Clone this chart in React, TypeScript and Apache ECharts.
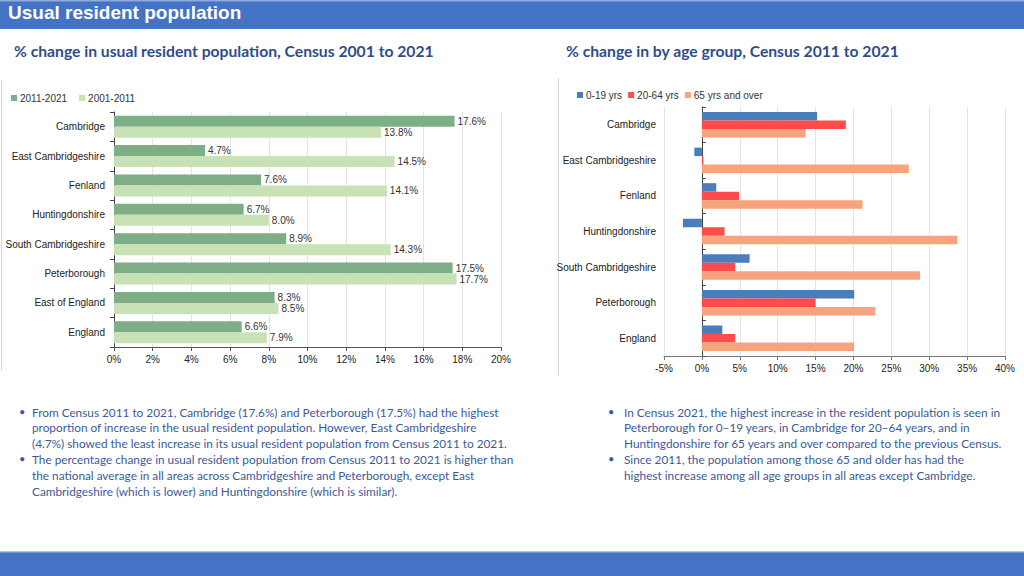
import React, { useEffect, useRef } from "react";
import * as echarts from "echarts";

const areasLeft = ["Cambridge", "East Cambridgeshire", "Fenland", "Huntingdonshire", "South Cambridgeshire", "Peterborough", "East of England", "England"];
const change2011_2021 = [17.6, 4.7, 7.6, 6.7, 8.9, 17.5, 8.3, 6.6];
const change2001_2011 = [13.8, 14.5, 14.1, 8.0, 14.3, 17.7, 8.5, 7.9];

const areasRight = ["Cambridge", "East Cambridgeshire", "Fenland", "Huntingdonshire", "South Cambridgeshire", "Peterborough", "England"];
const age0_19 = [15.2, -1.0, 1.9, -2.5, 6.3, 20.1, 2.7];
const age20_64 = [19.0, 0.2, 4.9, 3.0, 4.4, 15.0, 4.4];
const age65plus = [13.7, 27.3, 21.2, 33.7, 28.8, 22.9, 20.1];

const leftBullets = [
  ["From Census 2011 to 2021, Cambridge (17.6%) and Peterborough (17.5%) had the highest", "proportion of increase in the usual resident population. However, East Cambridgeshire", "(4.7%) showed the least increase in its usual resident population from Census 2011 to 2021."],
  ["The percentage change in usual resident population from Census 2011 to 2021 is higher than", "the national average in all areas across Cambridgeshire and Peterborough, except East", "Cambridgeshire (which is lower) and Huntingdonshire (which is similar)."],
];
const rightBullets = [
  ["In Census 2021, the highest increase in the resident population is seen in", "Peterborough for 0\u201319 years, in Cambridge for 20\u201364 years, and in", "Huntingdonshire for 65 years and over compared to the previous Census."],
  ["Since 2011, the population among those 65 and older has had the", "highest increase among all age groups in all areas except Cambridge."],
];

const FONT = "Liberation Sans, Arial, sans-serif";
const BODY_FONT = "Lato, Calibri, sans-serif";
const TEXT_BLUE = "#3A5A9C";

function bulletGraphics(groups: string[][], bx: number, tx: number, y0: number, lh: number) {
  const out: any[] = [];
  let y = y0;
  groups.forEach((lines) => {
    out.push({ type: "text", left: bx, top: y - 6, style: { text: "\u2022", fill: TEXT_BLUE, font: `11px ${BODY_FONT}` }, silent: true });
    lines.forEach((ln) => {
      out.push({ type: "text", left: tx, top: y - 6, style: { text: ln, fill: TEXT_BLUE, font: `11.8px ${BODY_FONT}` }, silent: true });
      y += lh;
    });
  });
  return out;
}

export default function App() {
  const ref = useRef<HTMLDivElement>(null);
  useEffect(() => {
    if (!ref.current) return;
    const chart = echarts.init(ref.current, undefined, { renderer: "svg" });
    const pct = (v: any) => `${Number(v.value).toFixed(1)}%`;
    const option: any = {
      animation: false,
      backgroundColor: "#ffffff",
      textStyle: { fontFamily: FONT },
      legend: [
        {
          left: 6, top: 88, itemWidth: 6, itemHeight: 6, itemGap: 12, icon: "rect",
          textStyle: { fontSize: 10, color: "#333", fontFamily: FONT, padding: [0, 0, 0, -2] },
          data: ["2011-2021", "2001-2011"],
        },
        {
          left: 572, top: 85, itemWidth: 6, itemHeight: 6, itemGap: 6, icon: "rect",
          textStyle: { fontSize: 10, color: "#333", fontFamily: FONT, padding: [0, 0, 0, -2] },
          data: ["0-19 yrs", "20-64 yrs", "65 yrs and over"],
        },
      ],
      grid: [
        { left: 114, top: 112, width: 387, height: 235 },
        { left: 664, top: 107, width: 341, height: 249 },
      ],
      xAxis: [
        {
          gridIndex: 0, type: "value", min: 0, max: 20, interval: 2,
          axisLabel: { formatter: "{value}%", fontSize: 10, color: "#222", margin: 7 },
          axisLine: { show: true, lineStyle: { color: "#555" } },
          axisTick: { show: true, length: 4, lineStyle: { color: "#555" } },
          splitLine: { show: true, lineStyle: { color: "#E4E4E4" } },
        },
        {
          gridIndex: 1, type: "value", min: -5, max: 40, interval: 5,
          axisLabel: { formatter: "{value}%", fontSize: 10, color: "#222", margin: 7 },
          axisLine: { show: true, onZero: false, lineStyle: { color: "#777" } },
          axisTick: { show: true, length: 4, lineStyle: { color: "#777" } },
          splitLine: { show: true, lineStyle: { color: "#E4E4E4" } },
        },
      ],
      yAxis: [
        {
          gridIndex: 0, type: "category", data: areasLeft, inverse: true,
          axisLabel: { fontSize: 10, color: "#222", margin: 9 },
          axisLine: { show: true, onZero: false, lineStyle: { color: "#444" } },
          axisTick: { show: true, length: 4, lineStyle: { color: "#444" } },
        },
        {
          gridIndex: 1, type: "category", data: areasRight, inverse: true,
          axisLabel: { fontSize: 10, color: "#222", margin: 8 },
          axisLine: { show: false, onZero: false },
          axisTick: { show: false },
        },
        {
          gridIndex: 1, type: "category", data: areasRight, inverse: true,
          axisLabel: { show: false },
          axisLine: { show: true, onZero: true, lineStyle: { color: "#444" } },
          axisTick: { show: true, length: 4, lineStyle: { color: "#444" } },
        },
      ],
      series: [
        {
          name: "2011-2021", type: "bar", xAxisIndex: 0, yAxisIndex: 0, data: change2011_2021,
          barWidth: 11, barGap: "0%", itemStyle: { color: "#7DAE85" },
          label: { show: true, position: "right", distance: 3, formatter: pct, fontSize: 10, color: "#333" },
        },
        {
          name: "2001-2011", type: "bar", xAxisIndex: 0, yAxisIndex: 0, data: change2001_2011,
          barWidth: 11, barGap: "0%", itemStyle: { color: "#C8E2B5" },
          label: { show: true, position: "right", distance: 3, formatter: pct, fontSize: 10, color: "#333" },
        },
        {
          name: "0-19 yrs", type: "bar", xAxisIndex: 1, yAxisIndex: 1, data: age0_19,
          barWidth: 8.5, barGap: "0%", itemStyle: { color: "#4A7EBB" },
        },
        {
          name: "20-64 yrs", type: "bar", xAxisIndex: 1, yAxisIndex: 1, data: age20_64,
          barWidth: 8.5, barGap: "0%", itemStyle: { color: "#FF4B4B" },
        },
        {
          name: "65 yrs and over", type: "bar", xAxisIndex: 1, yAxisIndex: 1, data: age65plus,
          barWidth: 8.5, barGap: "0%", itemStyle: { color: "#F7A47E" },
        },
      ],
      graphic: [
        { type: "rect", shape: { x: 0, y: 0, width: 1024, height: 29 }, style: { fill: "#4472C4" }, silent: true },
        { type: "rect", shape: { x: 0, y: 0, width: 1024, height: 1.5 }, style: { fill: "#8FAADC" }, silent: true },
        { type: "text", left: 8, top: 3, style: { text: "Usual resident population", fill: "#ffffff", font: `bold 19px ${FONT}` }, silent: true },
        { type: "text", left: 14, top: 43, style: { text: "% change in usual resident population, Census 2001 to 2021", fill: "#2E4D8C", font: `bold 15.7px ${BODY_FONT}` }, silent: true },
        { type: "text", left: 566, top: 43, style: { text: "% change in by age group, Census 2011 to 2021", fill: "#2E4D8C", font: `bold 15.7px ${BODY_FONT}` }, silent: true },
        { type: "line", shape: { x1: 1.5, y1: 80, x2: 1.5, y2: 371 }, style: { stroke: "#D6D6D6", lineWidth: 1 }, silent: true },
        { type: "line", shape: { x1: 558.5, y1: 78, x2: 558.5, y2: 376 }, style: { stroke: "#D6D6D6", lineWidth: 1 }, silent: true },
        ...bulletGraphics(leftBullets, 19, 32, 412, 15.8),
        ...bulletGraphics(rightBullets, 608, 624, 412, 15.8),
        { type: "rect", shape: { x: 0, y: 551, width: 1024, height: 25 }, style: { fill: "#4472C4" }, silent: true },
        { type: "rect", shape: { x: 0, y: 551, width: 1024, height: 1.5 }, style: { fill: "#A9C4EA" }, silent: true },
      ],
    };
    chart.setOption(option);
    return () => chart.dispose();
  }, []);
  return <div ref={ref} style={{ position: "absolute", left: 0, top: 0, width: 1024, height: 576 }} />;
}
